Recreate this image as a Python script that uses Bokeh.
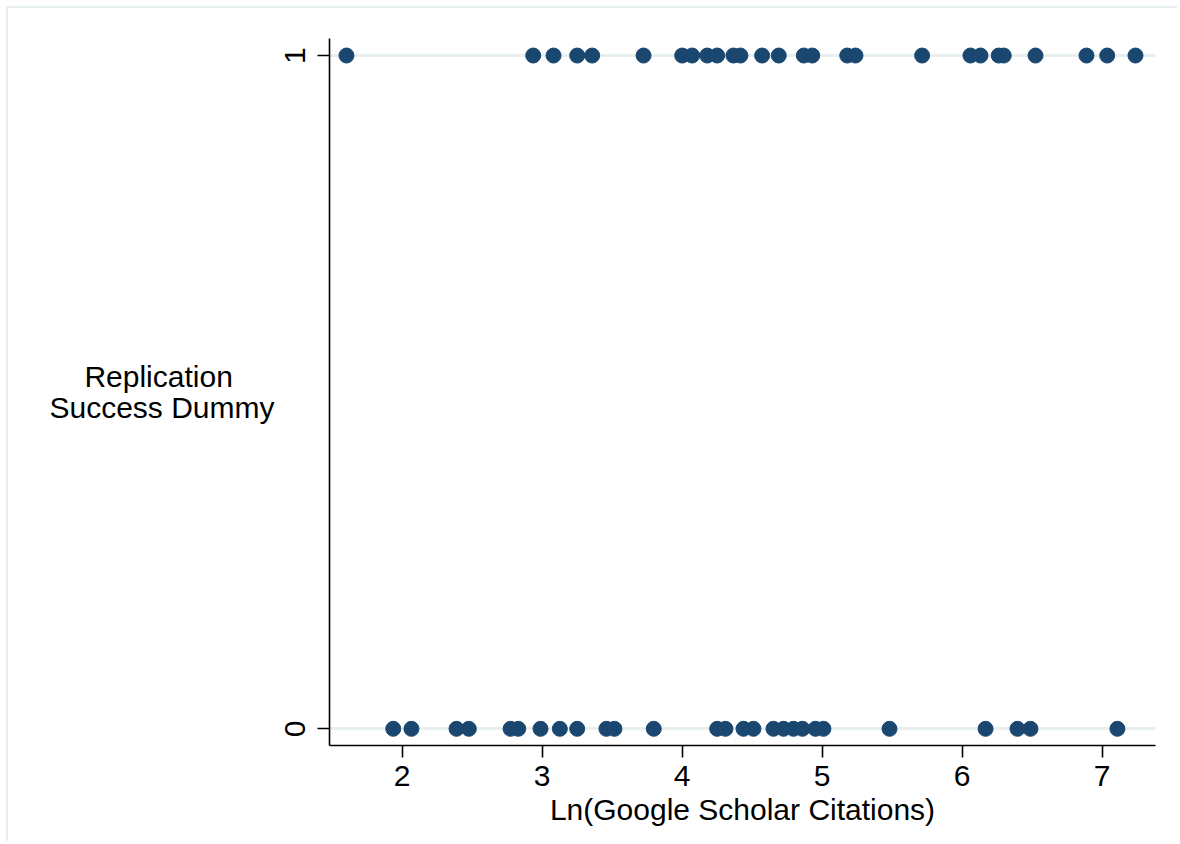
from bokeh.plotting import figure
from bokeh.models import Range1d, FixedTicker
from bokeh.embed import file_html
from bokeh.resources import INLINE

# Ln(Google Scholar Citations) for studies that replicated (y = 1)
x_success = [1.602, 2.936, 3.081, 3.25, 3.357, 3.724, 4.0, 4.071, 4.179, 4.25,
             4.366, 4.416, 4.571, 4.69, 4.869, 4.929, 5.179, 5.238, 5.714,
             6.059, 6.131, 6.261, 6.297, 6.524, 6.888, 7.036, 7.238]
# ... and for studies that failed to replicate (y = 0)
x_fail = [1.936, 2.066, 2.388, 2.476, 2.774, 2.829, 2.988, 3.126, 3.25, 3.459,
          3.516, 3.797, 4.25, 4.309, 4.438, 4.509, 4.652, 4.724, 4.795, 4.859,
          4.952, 5.009, 5.481, 6.167, 6.395, 6.488, 7.109]

x_ticks = [2, 3, 4, 5, 6, 7]
y_ticks = [0, 1]
x_title = "Ln(Google Scholar Citations)"
y_title_lines = ["Replication", "Success Dummy"]

FONT = "Liberation Sans"
NAVY = "#1a476f"
GRID = "#e8eff1"

p = figure(width=1171, height=835, output_backend="svg", toolbar_location=None,
           x_range=Range1d(1.4807, 7.381), y_range=Range1d(-0.0248, 1.0253),
           min_border_left=321, min_border_right=24, min_border_top=30,
           min_border_bottom=98)
p.outline_line_color = None
p.background_fill_color = "white"
p.border_fill_color = "white"

p.xgrid.visible = False
p.ygrid.ticker = FixedTicker(ticks=y_ticks)
p.ygrid.grid_line_color = GRID
p.ygrid.grid_line_width = 3

p.scatter(x_success, [1] * len(x_success), size=15, color=NAVY, line_color=NAVY)
p.scatter(x_fail, [0] * len(x_fail), size=15, color=NAVY, line_color=NAVY)

for ax in (p.xaxis[0], p.yaxis[0]):
    ax.axis_line_color = "black"
    ax.axis_line_width = 1.6
    ax.major_tick_line_color = "black"
    ax.major_tick_line_width = 1.6
    ax.major_tick_out = 12
    ax.major_tick_in = 0
    ax.minor_tick_line_color = None
    ax.major_label_text_font = FONT
    ax.major_label_text_font_size = "30px"
    ax.major_label_text_color = "black"
    ax.axis_label_text_font = FONT
    ax.axis_label_text_font_size = "30px"
    ax.axis_label_text_font_style = "normal"
    ax.axis_label_text_color = "black"

p.xaxis.ticker = FixedTicker(ticks=x_ticks)
p.xaxis.major_label_standoff = 8
p.xaxis.axis_label = x_title
p.xaxis.axis_label_standoff = 4

p.yaxis.ticker = FixedTicker(ticks=y_ticks)
p.yaxis.major_label_orientation = "vertical"
p.yaxis.major_label_standoff = 12
# lines are right-justified by Bokeh; pad the short line with non-breaking
# spaces so both lines appear centred, as in the original
pad = "\u00a0" * 5
p.yaxis.axis_label = y_title_lines[0] + pad + "\n" + y_title_lines[1]
p.yaxis.axis_label_orientation = "horizontal"
p.yaxis.axis_label_text_line_height = 0.92
p.yaxis.axis_label_standoff = 8

p.styles = {"margin-top": "6px", "margin-left": "6px",
            "border-top": "2px solid #e8eff1", "border-left": "2px solid #e8eff1"}

open("out.html", "w").write(file_html(p, INLINE))
